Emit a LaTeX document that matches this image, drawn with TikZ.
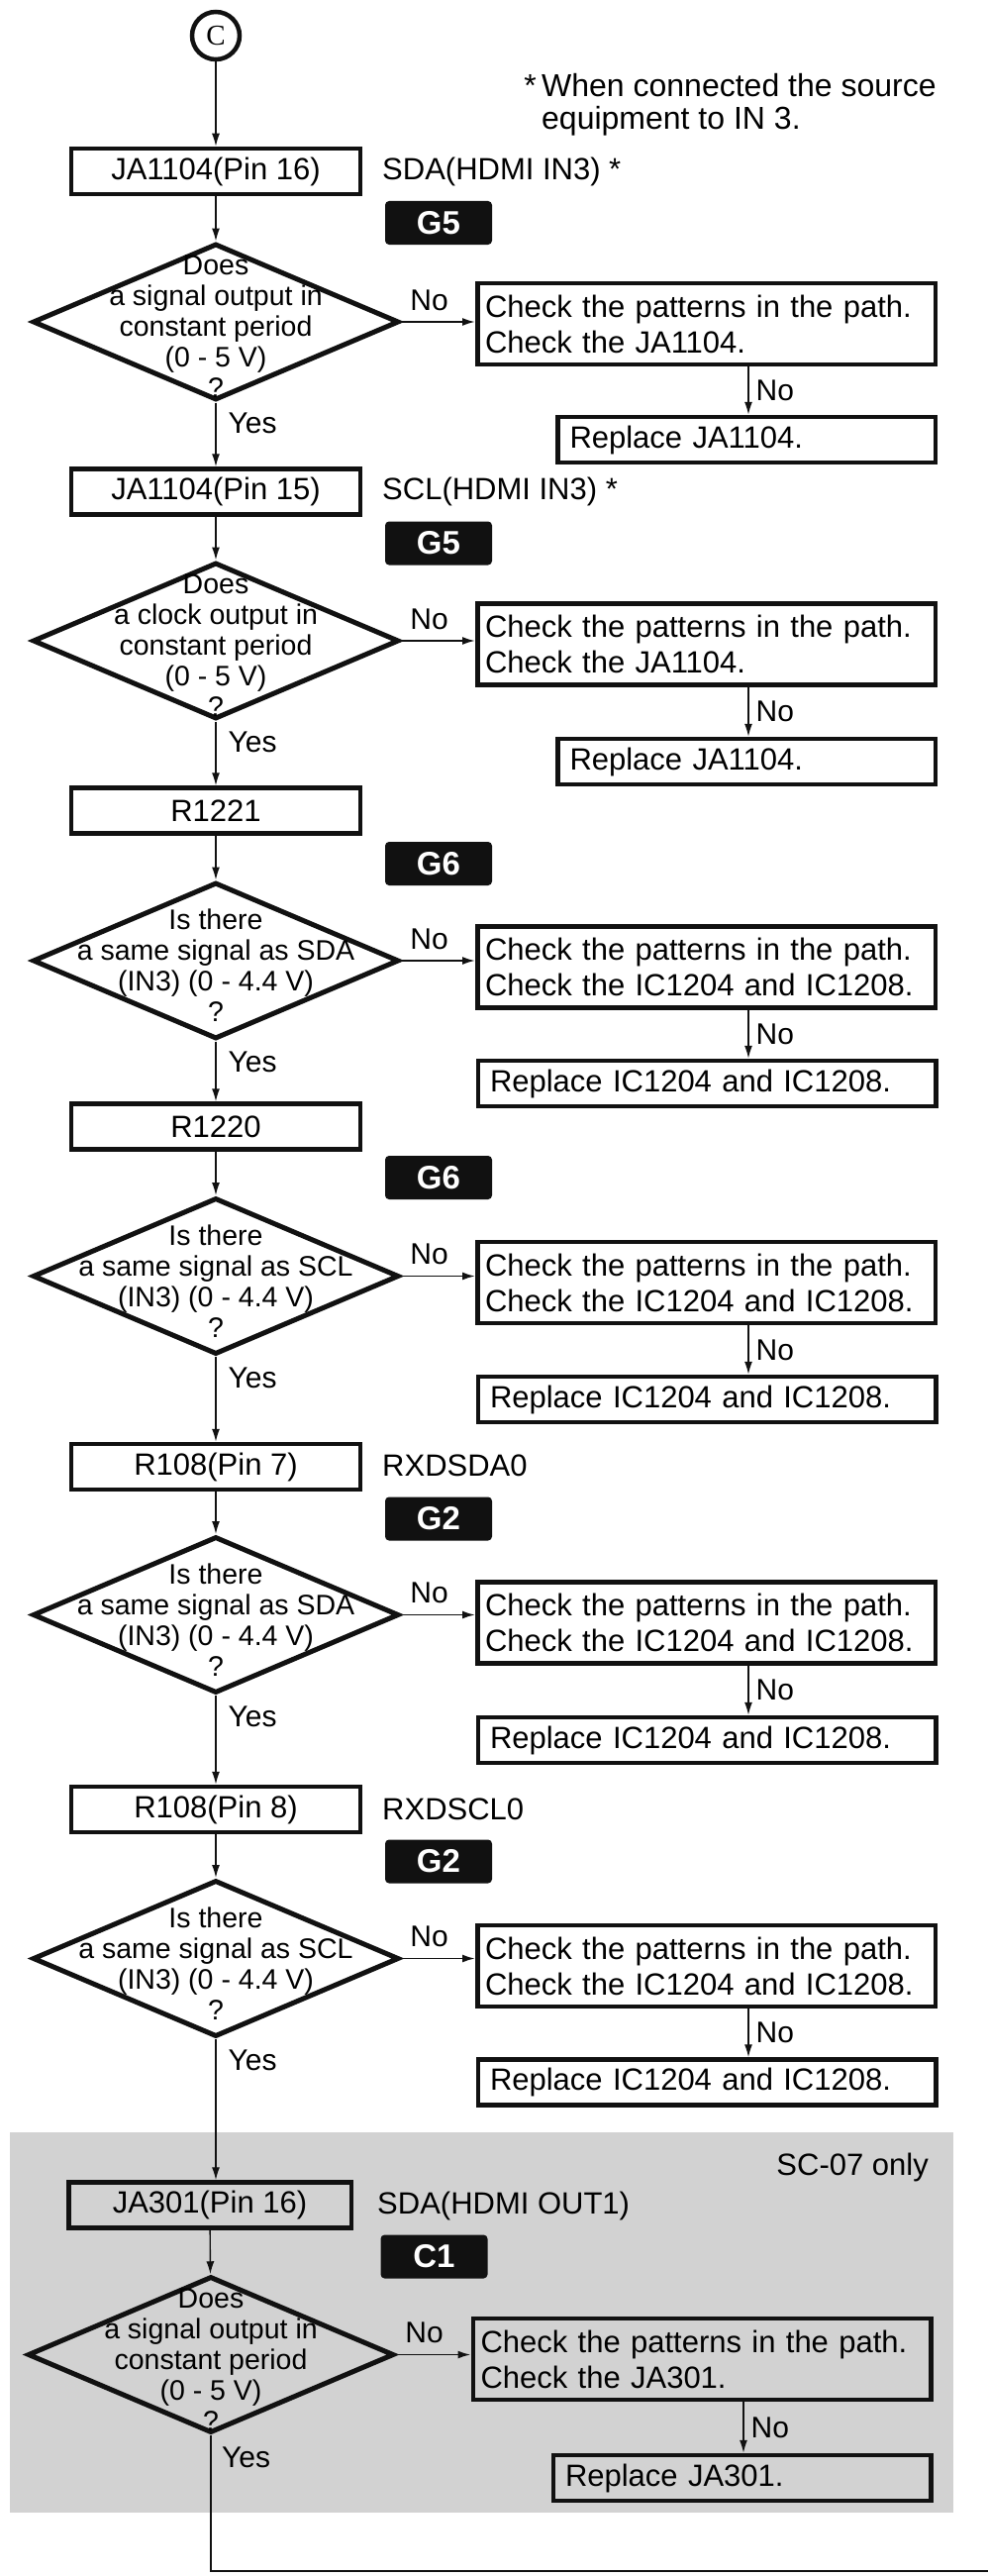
\documentclass[tikz,border=0pt]{standalone}
\usepackage{fontspec}
\setmainfont{Liberation Sans}
\newfontfamily\circfont{Liberation Serif}
\usetikzlibrary{arrows.meta,shapes.geometric,calc}
\definecolor{Ink}{HTML}{111111}
\definecolor{Shade}{HTML}{D2D2D2}
\tikzset{
 block/.style={draw=Ink, line width=4.5pt, minimum width=292pt, minimum height=46pt, inner sep=0pt, font=\fontsize{31}{36}\selectfont},
 checkblock/.style={draw=Ink, line width=4.5pt, text width=447pt, inner xsep=7.75pt, inner ysep=3pt, minimum height=82pt, align=left, font=\fontsize{31}{36}\selectfont},
 fixblock/.style={draw=Ink, line width=4.5pt, text width=438pt, inner xsep=12.25pt, inner ysep=0pt, minimum height=46pt, align=left, font=\fontsize{31}{36}\selectfont},
 fixshort/.style={fixblock, text width=357pt},
 decision/.style={diamond, draw=Ink, line width=5pt, minimum width=370pt, minimum height=158pt, inner sep=0pt},
 question/.style={align=center, inner sep=0pt, font=\fontsize{28.5}{31}\selectfont, yshift=-5pt},
 tag/.style={fill=Ink, text=white, rounded corners=4pt, minimum width=108pt, minimum height=44pt, inner sep=0pt, font=\fontsize{33}{33}\selectfont\bfseries},
 side/.style={anchor=west, inner sep=0pt, font=\fontsize{31}{36}\selectfont},
 answer/.style={inner sep=0pt, font=\fontsize{30}{36}\selectfont},
 arrow/.style={-{Latex[length=13pt,width=8pt]}, line width=1.4pt, draw=Ink},
 noarrow/.style={arrow, line width=1.9pt},
 flowline/.style={line width=1.8pt, draw=Ink}
}

\begin{document}
\begin{tikzpicture}[x=1pt,y=-1pt]
\useasboundingbox (0,0) rectangle (998,2601);
\fill[Shade] (10,2153) rectangle (963,2537);

\node[circle, draw=Ink, line width=4.5pt, minimum size=48pt, inner sep=0pt, font=\circfont\fontsize{29}{29}\selectfont] (start) at (218,36) {C};
\node[anchor=west, align=left, inner sep=0pt, font=\fontsize{32}{33}\selectfont] (note) at (547,106) {\llap{*\,}When connected the source\\equipment to IN 3.};

% JA1104 pin 16
\node[block] (b1) at (218,173) {JA1104(Pin 16)};
\node[side] (l1) at (386,173) {SDA(HDMI IN3) *};
\node[tag] (g1) at (443,225) {G5};
\node[decision, label={[question]center:{Does\\a signal output in\\constant period\\(0 - 5 V)\\?}}] (d1) at (218,325) {};
\node[checkblock] (c1) at (713.5,327) {Check the patterns in the path.\\Check the JA1104.};
\node[fixshort] (r1) at (754,444) {Replace JA1104.};

% JA1104 pin 15
\node[block] (b2) at (218,496.5) {JA1104(Pin 15)};
\node[side] (l2) at (386,496) {SCL(HDMI IN3) *};
\node[tag] (g2) at (443,548.5) {G5};
\node[decision, label={[question]center:{Does\\a clock output in\\constant period\\(0 - 5 V)\\?}}] (d2) at (218,647) {};
\node[checkblock] (c2) at (713.5,650.5) {Check the patterns in the path.\\Check the JA1104.};
\node[fixshort] (r2) at (754,769) {Replace JA1104.};

% R1221
\node[block] (b3) at (218,818.5) {R1221};
\node[tag] (g3) at (443,872) {G6};
\node[decision, label={[question]center:{Is there\\a same signal as SDA\\(IN3) (0 - 4.4 V)\\?}}] (d3) at (218,970) {};
\node[checkblock] (c3) at (713.5,976.5) {Check the patterns in the path.\\Check the IC1204 and IC1208.};
\node[fixblock] (r3) at (714,1094) {Replace IC1204 and IC1208.};

% R1220
\node[block] (b4) at (218,1137.5) {R1220};
\node[tag] (g4) at (443,1189) {G6};
\node[decision, label={[question]center:{Is there\\a same signal as SCL\\(IN3) (0 - 4.4 V)\\?}}] (d4) at (218,1288.5) {};
\node[checkblock] (c4) at (713.5,1295) {Check the patterns in the path.\\Check the IC1204 and IC1208.};
\node[fixblock] (r4) at (714,1413) {Replace IC1204 and IC1208.};

% R108 pin 7
\node[block] (b5) at (218,1481) {R108(Pin 7)};
\node[side] (l5) at (386,1480) {RXDSDA0};
\node[tag] (g5) at (443,1533.5) {G2};
\node[decision, label={[question]center:{Is there\\a same signal as SDA\\(IN3) (0 - 4.4 V)\\?}}] (d5) at (218,1630.5) {};
\node[checkblock] (c5) at (713.5,1638.5) {Check the patterns in the path.\\Check the IC1204 and IC1208.};
\node[fixblock] (r5) at (714,1757) {Replace IC1204 and IC1208.};

% R108 pin 8
\node[block] (b6) at (218,1827) {R108(Pin 8)};
\node[side] (l6) at (386,1827) {RXDSCL0};
\node[tag] (g6) at (443,1879.5) {G2};
\node[decision, label={[question]center:{Is there\\a same signal as SCL\\(IN3) (0 - 4.4 V)\\?}}] (d6) at (218,1977.5) {};
\node[checkblock] (c6) at (713.5,1985) {Check the patterns in the path.\\Check the IC1204 and IC1208.};
\node[fixblock] (r6) at (714,2102.5) {Replace IC1204 and IC1208.};

% JA301, SC-07 only
\node[side, anchor=east] (sc) at (938,2188) {SC-07 only};
\node[block, minimum width=285.5pt] (b7) at (212,2226.5) {JA301(Pin 16)};
\node[side] (l7) at (381,2227) {SDA(HDMI OUT1)};
\node[tag] (g7) at (438.5,2278.5) {C1};
\node[decision, label={[question]center:{Does\\a signal output in\\constant period\\(0 - 5 V)\\?}}] (d7) at (213,2377.5) {};
\node[checkblock] (c7) at (709,2382) {Check the patterns in the path.\\Check the JA301.};
\node[fixshort] (r7) at (749.5,2502) {Replace JA301.};
\coordinate (out) at (998,2596);

\draw[arrow] (start) -- (b1);
\draw[arrow] (b1) -- (d1);
\draw[arrow] (d1) -- (b2) node[answer, pos=0, anchor=west, xshift=12pt, yshift=-21pt] {Yes};
\draw[arrow] (b2) -- (d2);
\draw[arrow] (d2) -- (b3) node[answer, pos=0, anchor=west, xshift=12pt, yshift=-21pt] {Yes};
\draw[arrow] (b3) -- (d3);
\draw[arrow] (d3) -- (b4) node[answer, pos=0, anchor=west, xshift=12pt, yshift=-21pt] {Yes};
\draw[arrow] (b4) -- (d4);
\draw[arrow] (d4) -- (b5) node[answer, pos=0, anchor=west, xshift=12pt, yshift=-21pt] {Yes};
\draw[arrow] (b5) -- (d5);
\draw[arrow] (d5) -- (b6) node[answer, pos=0, anchor=west, xshift=12pt, yshift=-21pt] {Yes};
\draw[arrow] (b6) -- (d6);
\draw[arrow] (d6) -- (d6 |- b7.north) node[answer, pos=0, anchor=west, xshift=12pt, yshift=-21pt] {Yes};
\draw[arrow] (b7) -- (d7);
\draw[flowline] (d7) -- (d7 |- out) -- (out);
\node[answer, anchor=west] (yes7) at ([xshift=11pt, yshift=-22pt]d7.south) {Yes};

\draw[noarrow] (d1.east) -- (d1.east -| c1.west) node[answer, pos=0, anchor=west, xshift=8pt, yshift=22pt] {No};
\draw[noarrow] (d2.east) -- (d2.east -| c2.west) node[answer, pos=0, anchor=west, xshift=8pt, yshift=22pt] {No};
\draw[noarrow] (d3.east) -- (d3.east -| c3.west) node[answer, pos=0, anchor=west, xshift=8pt, yshift=22pt] {No};
\draw[noarrow] (d4.east) -- (d4.east -| c4.west) node[answer, pos=0, anchor=west, xshift=8pt, yshift=22pt] {No};
\draw[noarrow] (d5.east) -- (d5.east -| c5.west) node[answer, pos=0, anchor=west, xshift=8pt, yshift=22pt] {No};
\draw[noarrow] (d6.east) -- (d6.east -| c6.west) node[answer, pos=0, anchor=west, xshift=8pt, yshift=22pt] {No};
\draw[noarrow] (d7.east) -- (d7.east -| c7.west) node[answer, pos=0, anchor=west, xshift=8pt, yshift=22pt] {No};

\draw[arrow] ([xshift=42.5pt]c1.south) -- ([xshift=42.5pt]c1.south |- r1.north) node[answer, midway, anchor=west, xshift=7pt] {No};
\draw[arrow] ([xshift=42.5pt]c2.south) -- ([xshift=42.5pt]c2.south |- r2.north) node[answer, midway, anchor=west, xshift=7pt] {No};
\draw[arrow] ([xshift=42.5pt]c3.south) -- ([xshift=42.5pt]c3.south |- r3.north) node[answer, midway, anchor=west, xshift=7pt] {No};
\draw[arrow] ([xshift=42.5pt]c4.south) -- ([xshift=42.5pt]c4.south |- r4.north) node[answer, midway, anchor=west, xshift=7pt] {No};
\draw[arrow] ([xshift=42.5pt]c5.south) -- ([xshift=42.5pt]c5.south |- r5.north) node[answer, midway, anchor=west, xshift=7pt] {No};
\draw[arrow] ([xshift=42.5pt]c6.south) -- ([xshift=42.5pt]c6.south |- r6.north) node[answer, midway, anchor=west, xshift=7pt] {No};
\draw[arrow] ([xshift=42pt]c7.south) -- ([xshift=42pt]c7.south |- r7.north) node[answer, midway, anchor=west, xshift=7pt] {No};
\end{tikzpicture}
\end{document}
